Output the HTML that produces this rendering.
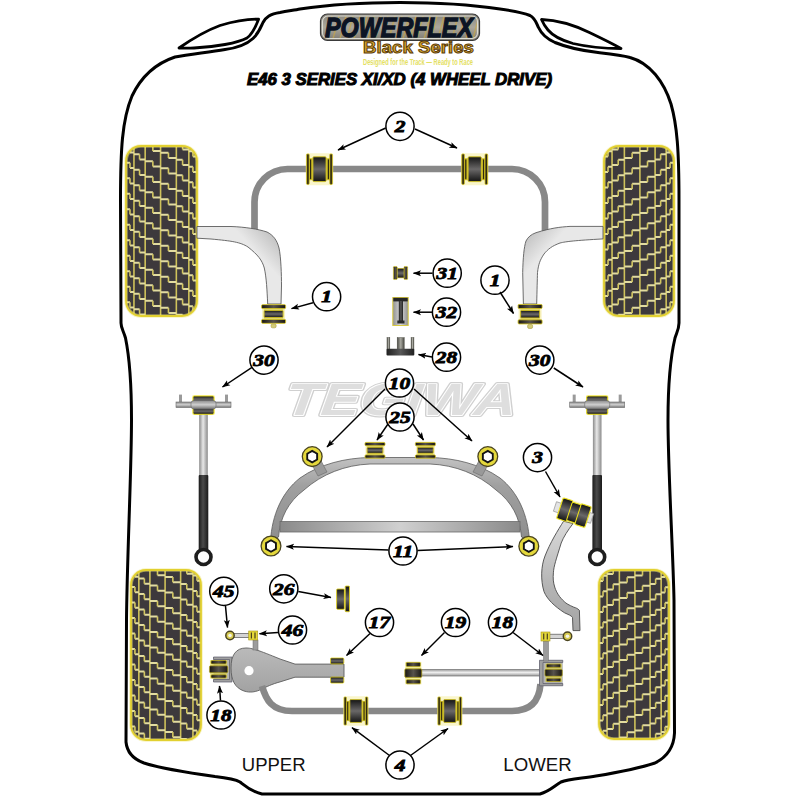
<!DOCTYPE html>
<html><head><meta charset="utf-8"><title>E46 3 Series XI/XD Powerflex Black Series</title>
<style>
html,body{margin:0;padding:0;background:#fff;width:800px;height:800px;overflow:hidden}
svg{display:block}
.lb{font-family:"Liberation Serif",serif;font-weight:bold;font-style:italic;text-anchor:middle;fill:#000;stroke:#000;stroke-width:0.85px}
</style></head>
<body>
<svg width="800" height="800" viewBox="0 0 800 800">
<defs>
<clipPath id="clogo"><rect x="322" y="15.5" width="156" height="23.5" rx="5.5"/></clipPath>
<marker id="ah" markerWidth="10" markerHeight="8" refX="7.5" refY="4" orient="auto" markerUnits="userSpaceOnUse"><path d="M0 1 L8 4 L0 7 L1.8 4 Z" fill="#000"/></marker>
<linearGradient id="gdk" x1="0" y1="0" x2="1" y2="0"><stop offset="0" stop-color="#1a1712"/><stop offset="0.5" stop-color="#57524c"/><stop offset="1" stop-color="#1a1712"/></linearGradient>
<linearGradient id="gdk2" x1="0" y1="0" x2="1" y2="0"><stop offset="0" stop-color="#202020"/><stop offset="0.5" stop-color="#585858"/><stop offset="1" stop-color="#202020"/></linearGradient>
<linearGradient id="glogo" x1="0" y1="0" x2="0" y2="1"><stop offset="0" stop-color="#8a867e"/><stop offset="0.5" stop-color="#aca89c"/><stop offset="1" stop-color="#7e7a72"/></linearGradient>
<linearGradient id="garm" gradientUnits="userSpaceOnUse" x1="256" y1="252" x2="280" y2="230"><stop offset="0" stop-color="#e8e8e8"/><stop offset="1" stop-color="#b6b6b6"/></linearGradient>
<linearGradient id="garm2" gradientUnits="userSpaceOnUse" x1="545" y1="252" x2="521" y2="230"><stop offset="0" stop-color="#e8e8e8"/><stop offset="1" stop-color="#b6b6b6"/></linearGradient>
<linearGradient id="gprong" x1="0" y1="0" x2="1" y2="0"><stop offset="0" stop-color="#4a4a44"/><stop offset="0.5" stop-color="#a8a8a0"/><stop offset="1" stop-color="#4a4a44"/></linearGradient>
<linearGradient id="guarm" x1="0" y1="0" x2="0" y2="1"><stop offset="0" stop-color="#bababa"/><stop offset="1" stop-color="#a2a2a2"/></linearGradient>
<linearGradient id="garc" gradientUnits="userSpaceOnUse" x1="0" y1="456" x2="0" y2="540"><stop offset="0" stop-color="#c4c4c4"/><stop offset="0.35" stop-color="#a0a0a0"/><stop offset="1" stop-color="#8e8e8e"/></linearGradient>
<linearGradient id="ggray" x1="0" y1="0" x2="1" y2="0"><stop offset="0" stop-color="#909090"/><stop offset="0.5" stop-color="#d8d8d8"/><stop offset="1" stop-color="#909090"/></linearGradient>
<linearGradient id="grod" x1="0" y1="0" x2="1" y2="0"><stop offset="0" stop-color="#8a8a8a"/><stop offset="0.45" stop-color="#e8e8e8"/><stop offset="1" stop-color="#8a8a8a"/></linearGradient>
<linearGradient id="grod2" x1="0" y1="0" x2="0" y2="1"><stop offset="0" stop-color="#9a9a9a"/><stop offset="0.45" stop-color="#eeeeee"/><stop offset="1" stop-color="#9a9a9a"/></linearGradient>
<linearGradient id="gblk" x1="0" y1="0" x2="1" y2="0"><stop offset="0" stop-color="#1a1a1a"/><stop offset="0.45" stop-color="#4a4a4a"/><stop offset="1" stop-color="#1a1a1a"/></linearGradient>
<linearGradient id="gplate" x1="0" y1="0" x2="0" y2="1"><stop offset="0" stop-color="#8c8c8c"/><stop offset="0.5" stop-color="#cfcfcf"/><stop offset="1" stop-color="#727272"/></linearGradient>
<linearGradient id="gbar" x1="0" y1="0" x2="1" y2="0"><stop offset="0" stop-color="#8a8a8a"/><stop offset="0.5" stop-color="#d0d0d0"/><stop offset="1" stop-color="#8a8a8a"/></linearGradient>
<linearGradient id="gknuck" x1="0" y1="0" x2="0" y2="1"><stop offset="0" stop-color="#dadada"/><stop offset="0.6" stop-color="#b4b4b4"/><stop offset="1" stop-color="#a4a4a4"/></linearGradient>
<linearGradient id="gdkv" x1="0" y1="0" x2="0" y2="1"><stop offset="0" stop-color="#141414"/><stop offset="0.5" stop-color="#6a6868"/><stop offset="1" stop-color="#141414"/></linearGradient>
</defs>
<rect width="800" height="800" fill="#fff"/>
<path d="M300 9 C340 3 370 2.5 400 2.5 C430 2.5 460 3 500 9 C514 11 524 13 530 15.5 C535 18 536 22 538.5 27.5 C541.5 34 547 39 555 42.5 C566 47 581 50.5 598 52.5 C612 54 622 55 630 57.5 C650 63 664 82 671 104 C677 125 679 150 679 200 L679 323 C679 329 676.5 333 675 338 C671 355 668 385 668 420 C668 470 673 550 674 600 L674.5 733 C674 745 669 756 655 763 C640 768 620 772 596 776 C580 778.5 568 779 561 782 C554 786 550 791 540 794 L262 794 C250 791 245 786 240 782 C235 779 228 778 215 776.5 C190 773 160 768 144 763 C133 759 127 752 126 742 L126.5 620 C127 560 131.5 470 131.5 420 C131.5 385 129 355 125.5 338 C123.5 331 121 328 121 323 L120.5 200 C120.5 150 122 120 132 96 C142 75 157 63 175 57 C190 54 208 52.5 225 49.5 C237 48 247 44 253 38.5 C258.5 33.5 260.5 28 263 22.5 C266 17 270 14 280 12.5 C288 11 295 10 300 9 Z" fill="#fff" stroke="#000" stroke-width="3" stroke-linejoin="round"/>
<path d="M179 48 C192 39 205 31 220 25.5 C235 21 248 19 258.6 19.2 C256 26 253 33.5 247 38 C238 43 215 47 194 48 C188 48.3 183 48.2 179 48 Z" fill="none" stroke="#000" stroke-width="2.8" stroke-linejoin="round"/>
<path d="M541.5 19.5 C555 20 572 24 589.4 32.5 C603 39 614 44.5 621 48.5 C605 48.5 590 47.5 573 43.5 C562 40.5 553 36 548 30 C545 26.5 543 23 541.5 19.5 Z" fill="none" stroke="#000" stroke-width="2.8" stroke-linejoin="round"/>
<rect x="320.5" y="14" width="159" height="26.5" rx="7" fill="url(#glogo)" stroke="#3a3a3a" stroke-width="1.2"/>
<g clip-path="url(#clogo)" stroke="#c8a844" stroke-width="1.4" opacity="0.65"><line x1="326" y1="39" x2="332" y2="16"/><line x1="333" y1="39" x2="339" y2="16"/><line x1="340" y1="39" x2="346" y2="16"/><line x1="347" y1="39" x2="353" y2="16"/><line x1="354" y1="39" x2="360" y2="16"/><line x1="361" y1="39" x2="367" y2="16"/><line x1="368" y1="39" x2="374" y2="16"/><line x1="375" y1="39" x2="381" y2="16"/><line x1="382" y1="39" x2="388" y2="16"/><line x1="389" y1="39" x2="395" y2="16"/><line x1="396" y1="39" x2="402" y2="16"/><line x1="403" y1="39" x2="409" y2="16"/><line x1="410" y1="39" x2="416" y2="16"/><line x1="417" y1="39" x2="423" y2="16"/><line x1="424" y1="39" x2="430" y2="16"/><line x1="431" y1="39" x2="437" y2="16"/><line x1="438" y1="39" x2="444" y2="16"/><line x1="445" y1="39" x2="451" y2="16"/><line x1="452" y1="39" x2="458" y2="16"/><line x1="459" y1="39" x2="465" y2="16"/><line x1="466" y1="39" x2="472" y2="16"/><line x1="473" y1="39" x2="479" y2="16"/></g>
<rect x="322.5" y="16" width="155" height="22.5" rx="5.5" fill="none" stroke="#dcdcd4" stroke-width="1.1"/>
<text x="325" y="36.8" font-family="Liberation Sans" font-weight="bold" font-style="italic" font-size="27" fill="#0c1424" stroke="#0c1424" stroke-width="1.3" textLength="148" lengthAdjust="spacingAndGlyphs">POWERFLEX</text>
<text x="363" y="52.5" font-family="Liberation Sans" font-weight="bold" font-size="16" fill="#d8a830" stroke="#5a3a08" stroke-width="0.9" textLength="111" lengthAdjust="spacingAndGlyphs">Black Series</text>
<text x="363" y="64.5" font-family="Liberation Sans" font-weight="bold" font-size="8.3" fill="#e4e060" textLength="110" lengthAdjust="spacingAndGlyphs">Designed for the Track — Ready to Race</text>
<text x="247" y="84.5" font-family="Liberation Sans" font-weight="bold" font-style="italic" font-size="16.3" fill="#000" stroke="#000" stroke-width="1.0" textLength="305" lengthAdjust="spacingAndGlyphs">E46 3 SERIES XI/XD (4 WHEEL DRIVE)</text>
<clipPath id="t1"><rect x="126" y="146" width="71" height="170" rx="15"/></clipPath>
<rect x="126" y="146" width="71" height="170" rx="15" fill="#3d393c"/>
<g clip-path="url(#t1)" fill="none" stroke-width="1.6">
<path d="M133.95 146V316M145.17 146V316M160.58 146V316M176.34 146V316M188.84 146V316" stroke="#cfc25a"/>
<path d="M126 116.3H129.98M129.98 121.5H133.95M126 131.8H129.98M129.98 137H133.95M126 147.3H129.98M129.98 152.5H133.95M126 162.8H129.98M129.98 168H133.95M126 178.3H129.98M129.98 183.5H133.95M126 193.8H129.98M129.98 199H133.95M126 209.3H129.98M129.98 214.5H133.95M126 224.8H129.98M129.98 230H133.95M126 240.3H129.98M129.98 245.5H133.95M126 255.8H129.98M129.98 261H133.95M126 271.3H129.98M129.98 276.5H133.95M126 286.8H129.98M129.98 292H133.95M126 302.3H129.98M129.98 307.5H133.95M126 317.8H129.98M129.98 323H133.95M133.95 123.3H139.56M139.56 128.5H145.17M133.95 138.8H139.56M139.56 144H145.17M133.95 154.3H139.56M139.56 159.5H145.17M133.95 169.8H139.56M139.56 175H145.17M133.95 185.3H139.56M139.56 190.5H145.17M133.95 200.8H139.56M139.56 206H145.17M133.95 216.3H139.56M139.56 221.5H145.17M133.95 231.8H139.56M139.56 237H145.17M133.95 247.3H139.56M139.56 252.5H145.17M133.95 262.8H139.56M139.56 268H145.17M133.95 278.3H139.56M139.56 283.5H145.17M133.95 293.8H139.56M139.56 299H145.17M133.95 309.3H139.56M139.56 314.5H145.17M145.17 114.8H152.87M152.87 120H160.58M145.17 130.3H152.87M152.87 135.5H160.58M145.17 145.8H152.87M152.87 151H160.58M145.17 161.3H152.87M152.87 166.5H160.58M145.17 176.8H152.87M152.87 182H160.58M145.17 192.3H152.87M152.87 197.5H160.58M145.17 207.8H152.87M152.87 213H160.58M145.17 223.3H152.87M152.87 228.5H160.58M145.17 238.8H152.87M152.87 244H160.58M145.17 254.3H152.87M152.87 259.5H160.58M145.17 269.8H152.87M152.87 275H160.58M145.17 285.3H152.87M152.87 290.5H160.58M145.17 300.8H152.87M152.87 306H160.58M145.17 316.3H152.87M152.87 321.5H160.58M160.58 121.8H168.46M168.46 127H176.34M160.58 137.3H168.46M168.46 142.5H176.34M160.58 152.8H168.46M168.46 158H176.34M160.58 168.3H168.46M168.46 173.5H176.34M160.58 183.8H168.46M168.46 189H176.34M160.58 199.3H168.46M168.46 204.5H176.34M160.58 214.8H168.46M168.46 220H176.34M160.58 230.3H168.46M168.46 235.5H176.34M160.58 245.8H168.46M168.46 251H176.34M160.58 261.3H168.46M168.46 266.5H176.34M160.58 276.8H168.46M168.46 282H176.34M160.58 292.3H168.46M168.46 297.5H176.34M160.58 307.8H168.46M168.46 313H176.34M176.34 128.8H182.59M182.59 134H188.84M176.34 144.3H182.59M182.59 149.5H188.84M176.34 159.8H182.59M182.59 165H188.84M176.34 175.3H182.59M182.59 180.5H188.84M176.34 190.8H182.59M182.59 196H188.84M176.34 206.3H182.59M182.59 211.5H188.84M176.34 221.8H182.59M182.59 227H188.84M176.34 237.3H182.59M182.59 242.5H188.84M176.34 252.8H182.59M182.59 258H188.84M176.34 268.3H182.59M182.59 273.5H188.84M176.34 283.8H182.59M182.59 289H188.84M176.34 299.3H182.59M182.59 304.5H188.84M176.34 314.8H182.59M182.59 320H188.84M188.84 120.3H192.92M192.92 125.5H197M188.84 135.8H192.92M192.92 141H197M188.84 151.3H192.92M192.92 156.5H197M188.84 166.8H192.92M192.92 172H197M188.84 182.3H192.92M192.92 187.5H197M188.84 197.8H192.92M192.92 203H197M188.84 213.3H192.92M192.92 218.5H197M188.84 228.8H192.92M192.92 234H197M188.84 244.3H192.92M192.92 249.5H197M188.84 259.8H192.92M192.92 265H197M188.84 275.3H192.92M192.92 280.5H197M188.84 290.8H192.92M192.92 296H197M188.84 306.3H192.92M192.92 311.5H197" stroke="#e2dca0" stroke-width="1.9"/>
<path d="M129.98 116.3V121.5M129.98 131.8V137M129.98 147.3V152.5M129.98 162.8V168M129.98 178.3V183.5M129.98 193.8V199M129.98 209.3V214.5M129.98 224.8V230M129.98 240.3V245.5M129.98 255.8V261M129.98 271.3V276.5M129.98 286.8V292M129.98 302.3V307.5M129.98 317.8V323M139.56 123.3V128.5M139.56 138.8V144M139.56 154.3V159.5M139.56 169.8V175M139.56 185.3V190.5M139.56 200.8V206M139.56 216.3V221.5M139.56 231.8V237M139.56 247.3V252.5M139.56 262.8V268M139.56 278.3V283.5M139.56 293.8V299M139.56 309.3V314.5M152.87 114.8V120M152.87 130.3V135.5M152.87 145.8V151M152.87 161.3V166.5M152.87 176.8V182M152.87 192.3V197.5M152.87 207.8V213M152.87 223.3V228.5M152.87 238.8V244M152.87 254.3V259.5M152.87 269.8V275M152.87 285.3V290.5M152.87 300.8V306M152.87 316.3V321.5M168.46 121.8V127M168.46 137.3V142.5M168.46 152.8V158M168.46 168.3V173.5M168.46 183.8V189M168.46 199.3V204.5M168.46 214.8V220M168.46 230.3V235.5M168.46 245.8V251M168.46 261.3V266.5M168.46 276.8V282M168.46 292.3V297.5M168.46 307.8V313M182.59 128.8V134M182.59 144.3V149.5M182.59 159.8V165M182.59 175.3V180.5M182.59 190.8V196M182.59 206.3V211.5M182.59 221.8V227M182.59 237.3V242.5M182.59 252.8V258M182.59 268.3V273.5M182.59 283.8V289M182.59 299.3V304.5M182.59 314.8V320M192.92 120.3V125.5M192.92 135.8V141M192.92 151.3V156.5M192.92 166.8V172M192.92 182.3V187.5M192.92 197.8V203M192.92 213.3V218.5M192.92 228.8V234M192.92 244.3V249.5M192.92 259.8V265M192.92 275.3V280.5M192.92 290.8V296M192.92 306.3V311.5" stroke="#d2c660"/>
</g>
<rect x="126" y="146" width="71" height="170" rx="15" fill="none" stroke="#f0e880" stroke-width="3.6" opacity="0.5"/>
<rect x="126" y="146" width="71" height="170" rx="15" fill="none" stroke="#e2d030" stroke-width="1.8"/>
<clipPath id="t2"><rect x="604" y="146" width="70" height="170" rx="15"/></clipPath>
<rect x="604" y="146" width="70" height="170" rx="15" fill="#3d393c"/>
<g clip-path="url(#t2)" fill="none" stroke-width="1.6">
<path d="M612.05 146V316M624.37 146V316M639.91 146V316M655.1 146V316M666.16 146V316" stroke="#cfc25a"/>
<path d="M604 125.5H608.02M608.02 120.3H612.05M604 141H608.02M608.02 135.8H612.05M604 156.5H608.02M608.02 151.3H612.05M604 172H608.02M608.02 166.8H612.05M604 187.5H608.02M608.02 182.3H612.05M604 203H608.02M608.02 197.8H612.05M604 218.5H608.02M608.02 213.3H612.05M604 234H608.02M608.02 228.8H612.05M604 249.5H608.02M608.02 244.3H612.05M604 265H608.02M608.02 259.8H612.05M604 280.5H608.02M608.02 275.3H612.05M604 296H608.02M608.02 290.8H612.05M604 311.5H608.02M608.02 306.3H612.05M612.05 134H618.21M618.21 128.8H624.37M612.05 149.5H618.21M618.21 144.3H624.37M612.05 165H618.21M618.21 159.8H624.37M612.05 180.5H618.21M618.21 175.3H624.37M612.05 196H618.21M618.21 190.8H624.37M612.05 211.5H618.21M618.21 206.3H624.37M612.05 227H618.21M618.21 221.8H624.37M612.05 242.5H618.21M618.21 237.3H624.37M612.05 258H618.21M618.21 252.8H624.37M612.05 273.5H618.21M618.21 268.3H624.37M612.05 289H618.21M618.21 283.8H624.37M612.05 304.5H618.21M618.21 299.3H624.37M612.05 320H618.21M618.21 314.8H624.37M624.37 127H632.14M632.14 121.8H639.91M624.37 142.5H632.14M632.14 137.3H639.91M624.37 158H632.14M632.14 152.8H639.91M624.37 173.5H632.14M632.14 168.3H639.91M624.37 189H632.14M632.14 183.8H639.91M624.37 204.5H632.14M632.14 199.3H639.91M624.37 220H632.14M632.14 214.8H639.91M624.37 235.5H632.14M632.14 230.3H639.91M624.37 251H632.14M632.14 245.8H639.91M624.37 266.5H632.14M632.14 261.3H639.91M624.37 282H632.14M632.14 276.8H639.91M624.37 297.5H632.14M632.14 292.3H639.91M624.37 313H632.14M632.14 307.8H639.91M639.91 120H647.5M647.5 114.8H655.1M639.91 135.5H647.5M647.5 130.3H655.1M639.91 151H647.5M647.5 145.8H655.1M639.91 166.5H647.5M647.5 161.3H655.1M639.91 182H647.5M647.5 176.8H655.1M639.91 197.5H647.5M647.5 192.3H655.1M639.91 213H647.5M647.5 207.8H655.1M639.91 228.5H647.5M647.5 223.3H655.1M639.91 244H647.5M647.5 238.8H655.1M639.91 259.5H647.5M647.5 254.3H655.1M639.91 275H647.5M647.5 269.8H655.1M639.91 290.5H647.5M647.5 285.3H655.1M639.91 306H647.5M647.5 300.8H655.1M639.91 321.5H647.5M647.5 316.3H655.1M655.1 128.5H660.63M660.63 123.3H666.16M655.1 144H660.63M660.63 138.8H666.16M655.1 159.5H660.63M660.63 154.3H666.16M655.1 175H660.63M660.63 169.8H666.16M655.1 190.5H660.63M660.63 185.3H666.16M655.1 206H660.63M660.63 200.8H666.16M655.1 221.5H660.63M660.63 216.3H666.16M655.1 237H660.63M660.63 231.8H666.16M655.1 252.5H660.63M660.63 247.3H666.16M655.1 268H660.63M660.63 262.8H666.16M655.1 283.5H660.63M660.63 278.3H666.16M655.1 299H660.63M660.63 293.8H666.16M655.1 314.5H660.63M660.63 309.3H666.16M666.16 121.5H670.08M670.08 116.3H674M666.16 137H670.08M670.08 131.8H674M666.16 152.5H670.08M670.08 147.3H674M666.16 168H670.08M670.08 162.8H674M666.16 183.5H670.08M670.08 178.3H674M666.16 199H670.08M670.08 193.8H674M666.16 214.5H670.08M670.08 209.3H674M666.16 230H670.08M670.08 224.8H674M666.16 245.5H670.08M670.08 240.3H674M666.16 261H670.08M670.08 255.8H674M666.16 276.5H670.08M670.08 271.3H674M666.16 292H670.08M670.08 286.8H674M666.16 307.5H670.08M670.08 302.3H674M666.16 323H670.08M670.08 317.8H674" stroke="#e2dca0" stroke-width="1.9"/>
<path d="M608.02 120.3V125.5M608.02 135.8V141M608.02 151.3V156.5M608.02 166.8V172M608.02 182.3V187.5M608.02 197.8V203M608.02 213.3V218.5M608.02 228.8V234M608.02 244.3V249.5M608.02 259.8V265M608.02 275.3V280.5M608.02 290.8V296M608.02 306.3V311.5M618.21 128.8V134M618.21 144.3V149.5M618.21 159.8V165M618.21 175.3V180.5M618.21 190.8V196M618.21 206.3V211.5M618.21 221.8V227M618.21 237.3V242.5M618.21 252.8V258M618.21 268.3V273.5M618.21 283.8V289M618.21 299.3V304.5M618.21 314.8V320M632.14 121.8V127M632.14 137.3V142.5M632.14 152.8V158M632.14 168.3V173.5M632.14 183.8V189M632.14 199.3V204.5M632.14 214.8V220M632.14 230.3V235.5M632.14 245.8V251M632.14 261.3V266.5M632.14 276.8V282M632.14 292.3V297.5M632.14 307.8V313M647.5 114.8V120M647.5 130.3V135.5M647.5 145.8V151M647.5 161.3V166.5M647.5 176.8V182M647.5 192.3V197.5M647.5 207.8V213M647.5 223.3V228.5M647.5 238.8V244M647.5 254.3V259.5M647.5 269.8V275M647.5 285.3V290.5M647.5 300.8V306M647.5 316.3V321.5M660.63 123.3V128.5M660.63 138.8V144M660.63 154.3V159.5M660.63 169.8V175M660.63 185.3V190.5M660.63 200.8V206M660.63 216.3V221.5M660.63 231.8V237M660.63 247.3V252.5M660.63 262.8V268M660.63 278.3V283.5M660.63 293.8V299M660.63 309.3V314.5M670.08 116.3V121.5M670.08 131.8V137M670.08 147.3V152.5M670.08 162.8V168M670.08 178.3V183.5M670.08 193.8V199M670.08 209.3V214.5M670.08 224.8V230M670.08 240.3V245.5M670.08 255.8V261M670.08 271.3V276.5M670.08 286.8V292M670.08 302.3V307.5M670.08 317.8V323" stroke="#d2c660"/>
</g>
<rect x="604" y="146" width="70" height="170" rx="15" fill="none" stroke="#f0e880" stroke-width="3.6" opacity="0.5"/>
<rect x="604" y="146" width="70" height="170" rx="15" fill="none" stroke="#e2d030" stroke-width="1.8"/>
<clipPath id="t3"><rect x="131" y="570" width="70" height="170" rx="15"/></clipPath>
<rect x="131" y="570" width="70" height="170" rx="15" fill="#3d393c"/>
<g clip-path="url(#t3)" fill="none" stroke-width="1.6">
<path d="M138.84 570V740M149.9 570V740M165.09 570V740M180.63 570V740M192.95 570V740" stroke="#cfc25a"/>
<path d="M131 540.5H134.92M134.92 545.7H138.84M131 556H134.92M134.92 561.2H138.84M131 571.5H134.92M134.92 576.7H138.84M131 587H134.92M134.92 592.2H138.84M131 602.5H134.92M134.92 607.7H138.84M131 618H134.92M134.92 623.2H138.84M131 633.5H134.92M134.92 638.7H138.84M131 649H134.92M134.92 654.2H138.84M131 664.5H134.92M134.92 669.7H138.84M131 680H134.92M134.92 685.2H138.84M131 695.5H134.92M134.92 700.7H138.84M131 711H134.92M134.92 716.2H138.84M131 726.5H134.92M134.92 731.7H138.84M138.84 547.5H144.37M144.37 552.7H149.9M138.84 563H144.37M144.37 568.2H149.9M138.84 578.5H144.37M144.37 583.7H149.9M138.84 594H144.37M144.37 599.2H149.9M138.84 609.5H144.37M144.37 614.7H149.9M138.84 625H144.37M144.37 630.2H149.9M138.84 640.5H144.37M144.37 645.7H149.9M138.84 656H144.37M144.37 661.2H149.9M138.84 671.5H144.37M144.37 676.7H149.9M138.84 687H144.37M144.37 692.2H149.9M138.84 702.5H144.37M144.37 707.7H149.9M138.84 718H144.37M144.37 723.2H149.9M138.84 733.5H144.37M144.37 738.7H149.9M149.9 539H157.5M157.5 544.2H165.09M149.9 554.5H157.5M157.5 559.7H165.09M149.9 570H157.5M157.5 575.2H165.09M149.9 585.5H157.5M157.5 590.7H165.09M149.9 601H157.5M157.5 606.2H165.09M149.9 616.5H157.5M157.5 621.7H165.09M149.9 632H157.5M157.5 637.2H165.09M149.9 647.5H157.5M157.5 652.7H165.09M149.9 663H157.5M157.5 668.2H165.09M149.9 678.5H157.5M157.5 683.7H165.09M149.9 694H157.5M157.5 699.2H165.09M149.9 709.5H157.5M157.5 714.7H165.09M149.9 725H157.5M157.5 730.2H165.09M149.9 740.5H157.5M157.5 745.7H165.09M165.09 546H172.86M172.86 551.2H180.63M165.09 561.5H172.86M172.86 566.7H180.63M165.09 577H172.86M172.86 582.2H180.63M165.09 592.5H172.86M172.86 597.7H180.63M165.09 608H172.86M172.86 613.2H180.63M165.09 623.5H172.86M172.86 628.7H180.63M165.09 639H172.86M172.86 644.2H180.63M165.09 654.5H172.86M172.86 659.7H180.63M165.09 670H172.86M172.86 675.2H180.63M165.09 685.5H172.86M172.86 690.7H180.63M165.09 701H172.86M172.86 706.2H180.63M165.09 716.5H172.86M172.86 721.7H180.63M165.09 732H172.86M172.86 737.2H180.63M180.63 553H186.79M186.79 558.2H192.95M180.63 568.5H186.79M186.79 573.7H192.95M180.63 584H186.79M186.79 589.2H192.95M180.63 599.5H186.79M186.79 604.7H192.95M180.63 615H186.79M186.79 620.2H192.95M180.63 630.5H186.79M186.79 635.7H192.95M180.63 646H186.79M186.79 651.2H192.95M180.63 661.5H186.79M186.79 666.7H192.95M180.63 677H186.79M186.79 682.2H192.95M180.63 692.5H186.79M186.79 697.7H192.95M180.63 708H186.79M186.79 713.2H192.95M180.63 723.5H186.79M186.79 728.7H192.95M180.63 739H186.79M186.79 744.2H192.95M192.95 544.5H196.97M196.97 549.7H201M192.95 560H196.97M196.97 565.2H201M192.95 575.5H196.97M196.97 580.7H201M192.95 591H196.97M196.97 596.2H201M192.95 606.5H196.97M196.97 611.7H201M192.95 622H196.97M196.97 627.2H201M192.95 637.5H196.97M196.97 642.7H201M192.95 653H196.97M196.97 658.2H201M192.95 668.5H196.97M196.97 673.7H201M192.95 684H196.97M196.97 689.2H201M192.95 699.5H196.97M196.97 704.7H201M192.95 715H196.97M196.97 720.2H201M192.95 730.5H196.97M196.97 735.7H201" stroke="#e2dca0" stroke-width="1.9"/>
<path d="M134.92 540.5V545.7M134.92 556V561.2M134.92 571.5V576.7M134.92 587V592.2M134.92 602.5V607.7M134.92 618V623.2M134.92 633.5V638.7M134.92 649V654.2M134.92 664.5V669.7M134.92 680V685.2M134.92 695.5V700.7M134.92 711V716.2M134.92 726.5V731.7M144.37 547.5V552.7M144.37 563V568.2M144.37 578.5V583.7M144.37 594V599.2M144.37 609.5V614.7M144.37 625V630.2M144.37 640.5V645.7M144.37 656V661.2M144.37 671.5V676.7M144.37 687V692.2M144.37 702.5V707.7M144.37 718V723.2M144.37 733.5V738.7M157.5 539V544.2M157.5 554.5V559.7M157.5 570V575.2M157.5 585.5V590.7M157.5 601V606.2M157.5 616.5V621.7M157.5 632V637.2M157.5 647.5V652.7M157.5 663V668.2M157.5 678.5V683.7M157.5 694V699.2M157.5 709.5V714.7M157.5 725V730.2M157.5 740.5V745.7M172.86 546V551.2M172.86 561.5V566.7M172.86 577V582.2M172.86 592.5V597.7M172.86 608V613.2M172.86 623.5V628.7M172.86 639V644.2M172.86 654.5V659.7M172.86 670V675.2M172.86 685.5V690.7M172.86 701V706.2M172.86 716.5V721.7M172.86 732V737.2M186.79 553V558.2M186.79 568.5V573.7M186.79 584V589.2M186.79 599.5V604.7M186.79 615V620.2M186.79 630.5V635.7M186.79 646V651.2M186.79 661.5V666.7M186.79 677V682.2M186.79 692.5V697.7M186.79 708V713.2M186.79 723.5V728.7M186.79 739V744.2M196.97 544.5V549.7M196.97 560V565.2M196.97 575.5V580.7M196.97 591V596.2M196.97 606.5V611.7M196.97 622V627.2M196.97 637.5V642.7M196.97 653V658.2M196.97 668.5V673.7M196.97 684V689.2M196.97 699.5V704.7M196.97 715V720.2M196.97 730.5V735.7" stroke="#d2c660"/>
</g>
<rect x="131" y="570" width="70" height="170" rx="15" fill="none" stroke="#f0e880" stroke-width="3.6" opacity="0.5"/>
<rect x="131" y="570" width="70" height="170" rx="15" fill="none" stroke="#e2d030" stroke-width="1.8"/>
<clipPath id="t4"><rect x="599" y="570" width="70" height="169" rx="15"/></clipPath>
<rect x="599" y="570" width="70" height="169" rx="15" fill="#3d393c"/>
<g clip-path="url(#t4)" fill="none" stroke-width="1.6">
<path d="M607.05 570V739M619.37 570V739M634.91 570V739M650.1 570V739M661.16 570V739" stroke="#cfc25a"/>
<path d="M599 550H603.02M603.02 544.8H607.05M599 565.5H603.02M603.02 560.3H607.05M599 581H603.02M603.02 575.8H607.05M599 596.5H603.02M603.02 591.3H607.05M599 612H603.02M603.02 606.8H607.05M599 627.5H603.02M603.02 622.3H607.05M599 643H603.02M603.02 637.8H607.05M599 658.5H603.02M603.02 653.3H607.05M599 674H603.02M603.02 668.8H607.05M599 689.5H603.02M603.02 684.3H607.05M599 705H603.02M603.02 699.8H607.05M599 720.5H603.02M603.02 715.3H607.05M599 736H603.02M603.02 730.8H607.05M607.05 558.5H613.21M613.21 553.3H619.37M607.05 574H613.21M613.21 568.8H619.37M607.05 589.5H613.21M613.21 584.3H619.37M607.05 605H613.21M613.21 599.8H619.37M607.05 620.5H613.21M613.21 615.3H619.37M607.05 636H613.21M613.21 630.8H619.37M607.05 651.5H613.21M613.21 646.3H619.37M607.05 667H613.21M613.21 661.8H619.37M607.05 682.5H613.21M613.21 677.3H619.37M607.05 698H613.21M613.21 692.8H619.37M607.05 713.5H613.21M613.21 708.3H619.37M607.05 729H613.21M613.21 723.8H619.37M607.05 744.5H613.21M613.21 739.3H619.37M619.37 551.5H627.14M627.14 546.3H634.91M619.37 567H627.14M627.14 561.8H634.91M619.37 582.5H627.14M627.14 577.3H634.91M619.37 598H627.14M627.14 592.8H634.91M619.37 613.5H627.14M627.14 608.3H634.91M619.37 629H627.14M627.14 623.8H634.91M619.37 644.5H627.14M627.14 639.3H634.91M619.37 660H627.14M627.14 654.8H634.91M619.37 675.5H627.14M627.14 670.3H634.91M619.37 691H627.14M627.14 685.8H634.91M619.37 706.5H627.14M627.14 701.3H634.91M619.37 722H627.14M627.14 716.8H634.91M619.37 737.5H627.14M627.14 732.3H634.91M634.91 544.5H642.5M642.5 539.3H650.1M634.91 560H642.5M642.5 554.8H650.1M634.91 575.5H642.5M642.5 570.3H650.1M634.91 591H642.5M642.5 585.8H650.1M634.91 606.5H642.5M642.5 601.3H650.1M634.91 622H642.5M642.5 616.8H650.1M634.91 637.5H642.5M642.5 632.3H650.1M634.91 653H642.5M642.5 647.8H650.1M634.91 668.5H642.5M642.5 663.3H650.1M634.91 684H642.5M642.5 678.8H650.1M634.91 699.5H642.5M642.5 694.3H650.1M634.91 715H642.5M642.5 709.8H650.1M634.91 730.5H642.5M642.5 725.3H650.1M634.91 746H642.5M642.5 740.8H650.1M650.1 553H655.63M655.63 547.8H661.16M650.1 568.5H655.63M655.63 563.3H661.16M650.1 584H655.63M655.63 578.8H661.16M650.1 599.5H655.63M655.63 594.3H661.16M650.1 615H655.63M655.63 609.8H661.16M650.1 630.5H655.63M655.63 625.3H661.16M650.1 646H655.63M655.63 640.8H661.16M650.1 661.5H655.63M655.63 656.3H661.16M650.1 677H655.63M655.63 671.8H661.16M650.1 692.5H655.63M655.63 687.3H661.16M650.1 708H655.63M655.63 702.8H661.16M650.1 723.5H655.63M655.63 718.3H661.16M650.1 739H655.63M655.63 733.8H661.16M661.16 546H665.08M665.08 540.8H669M661.16 561.5H665.08M665.08 556.3H669M661.16 577H665.08M665.08 571.8H669M661.16 592.5H665.08M665.08 587.3H669M661.16 608H665.08M665.08 602.8H669M661.16 623.5H665.08M665.08 618.3H669M661.16 639H665.08M665.08 633.8H669M661.16 654.5H665.08M665.08 649.3H669M661.16 670H665.08M665.08 664.8H669M661.16 685.5H665.08M665.08 680.3H669M661.16 701H665.08M665.08 695.8H669M661.16 716.5H665.08M665.08 711.3H669M661.16 732H665.08M665.08 726.8H669" stroke="#e2dca0" stroke-width="1.9"/>
<path d="M603.02 544.8V550M603.02 560.3V565.5M603.02 575.8V581M603.02 591.3V596.5M603.02 606.8V612M603.02 622.3V627.5M603.02 637.8V643M603.02 653.3V658.5M603.02 668.8V674M603.02 684.3V689.5M603.02 699.8V705M603.02 715.3V720.5M603.02 730.8V736M613.21 553.3V558.5M613.21 568.8V574M613.21 584.3V589.5M613.21 599.8V605M613.21 615.3V620.5M613.21 630.8V636M613.21 646.3V651.5M613.21 661.8V667M613.21 677.3V682.5M613.21 692.8V698M613.21 708.3V713.5M613.21 723.8V729M613.21 739.3V744.5M627.14 546.3V551.5M627.14 561.8V567M627.14 577.3V582.5M627.14 592.8V598M627.14 608.3V613.5M627.14 623.8V629M627.14 639.3V644.5M627.14 654.8V660M627.14 670.3V675.5M627.14 685.8V691M627.14 701.3V706.5M627.14 716.8V722M627.14 732.3V737.5M642.5 539.3V544.5M642.5 554.8V560M642.5 570.3V575.5M642.5 585.8V591M642.5 601.3V606.5M642.5 616.8V622M642.5 632.3V637.5M642.5 647.8V653M642.5 663.3V668.5M642.5 678.8V684M642.5 694.3V699.5M642.5 709.8V715M642.5 725.3V730.5M642.5 740.8V746M655.63 547.8V553M655.63 563.3V568.5M655.63 578.8V584M655.63 594.3V599.5M655.63 609.8V615M655.63 625.3V630.5M655.63 640.8V646M655.63 656.3V661.5M655.63 671.8V677M655.63 687.3V692.5M655.63 702.8V708M655.63 718.3V723.5M655.63 733.8V739M665.08 540.8V546M665.08 556.3V561.5M665.08 571.8V577M665.08 587.3V592.5M665.08 602.8V608M665.08 618.3V623.5M665.08 633.8V639M665.08 649.3V654.5M665.08 664.8V670M665.08 680.3V685.5M665.08 695.8V701M665.08 711.3V716.5M665.08 726.8V732" stroke="#d2c660"/>
</g>
<rect x="599" y="570" width="70" height="169" rx="15" fill="none" stroke="#f0e880" stroke-width="3.6" opacity="0.5"/>
<rect x="599" y="570" width="70" height="169" rx="15" fill="none" stroke="#e2d030" stroke-width="1.8"/>
<path d="M254.5 231 L254.5 202 A33 33 0 0 1 287.5 169 L512 169 A33 33 0 0 1 545 202 L545 231" fill="none" stroke="#888" stroke-width="6.7"/>
<path d="M197 226.5 L231 226.5 C245 227 258 229 267 232 C273 235 277 240 279 248 C281 257 281.5 275 281.5 286 L281 304 L267.7 304 C267 290 266.5 278 264.3 268 C262 260 258 255 248 247 C240 242 232 241 211 239 L197 238.2 Z" fill="url(#garm)" stroke="#5c5c5c" stroke-width="0.9"/>
<path d="M603 226.4 L570 226.4 C560 227 551 228 536 232.7 C531 234.5 528 237 526 241 C524 247 523 258 522.7 272.5 L523.4 304 L536.7 304 C537 290 537.3 280 537.5 272.5 C538.5 264 540 260 544 254 C548 249 552 246 560 243 C566 241.5 575 240.5 603 238.9 Z" fill="url(#garm2)" stroke="#5c5c5c" stroke-width="0.9"/>
<g transform="translate(319.5 169.2) rotate(0) scale(1)"><rect x="-13.8" y="-16" width="27.6" height="32" rx="2" fill="#f6eea0" opacity="0.55"/><rect x="-10.5" y="-11" width="21" height="22" fill="#d8c838"/><rect x="-12.9" y="-15.2" width="2.6" height="30.4" rx="0.8" fill="#2e2812" stroke="#d4c420" stroke-width="0.8"/><rect x="-10" y="-10.2" width="2.2" height="20.4" rx="0.8" fill="#2e2812" stroke="#d4c420" stroke-width="0.8"/><rect x="7.8" y="-10.2" width="2.2" height="20.4" rx="0.8" fill="#2e2812" stroke="#d4c420" stroke-width="0.8"/><rect x="10.3" y="-15.2" width="2.6" height="30.4" rx="0.8" fill="#2e2812" stroke="#d4c420" stroke-width="0.8"/><rect x="-6.6" y="-12.4" width="13.2" height="24.8" rx="1" fill="url(#gdkv)" stroke="#d4c420" stroke-width="0.9"/></g>
<g transform="translate(474.7 169.2) rotate(0) scale(1)"><rect x="-13.8" y="-16" width="27.6" height="32" rx="2" fill="#f6eea0" opacity="0.55"/><rect x="-10.5" y="-11" width="21" height="22" fill="#d8c838"/><rect x="-12.9" y="-15.2" width="2.6" height="30.4" rx="0.8" fill="#2e2812" stroke="#d4c420" stroke-width="0.8"/><rect x="-10" y="-10.2" width="2.2" height="20.4" rx="0.8" fill="#2e2812" stroke="#d4c420" stroke-width="0.8"/><rect x="7.8" y="-10.2" width="2.2" height="20.4" rx="0.8" fill="#2e2812" stroke="#d4c420" stroke-width="0.8"/><rect x="10.3" y="-15.2" width="2.6" height="30.4" rx="0.8" fill="#2e2812" stroke="#d4c420" stroke-width="0.8"/><rect x="-6.6" y="-12.4" width="13.2" height="24.8" rx="1" fill="url(#gdkv)" stroke="#d4c420" stroke-width="0.9"/></g>
<rect x="262.1" y="306.61" width="23" height="14.77" fill="#f8f2c0"/><rect x="263.76" y="306.61" width="19.68" height="14.77" fill="#e2d878"/><rect x="261.6" y="304.65" width="24" height="3.93" rx="1" fill="url(#gdk)" stroke="#d4c420" stroke-width="0.85"/><rect x="261.6" y="319.42" width="24" height="3.93" rx="1" fill="url(#gdk)" stroke="#d4c420" stroke-width="0.85"/><rect x="264.12" y="310.45" width="18.96" height="7.11" rx="1" fill="url(#gdkv)" stroke="#d4c420" stroke-width="0.85"/><rect x="271.1" y="323.85" width="5" height="4" rx="1.5" fill="#d4cc78" stroke="#a89c40" stroke-width="0.6"/>
<rect x="518.6" y="306.5" width="23" height="15.41" fill="#f8f2c0"/><rect x="520.26" y="306.5" width="19.68" height="15.41" fill="#e2d878"/><rect x="518.1" y="304.45" width="24" height="4.09" rx="1" fill="url(#gdk)" stroke="#d4c420" stroke-width="0.85"/><rect x="518.1" y="319.85" width="24" height="4.09" rx="1" fill="url(#gdk)" stroke="#d4c420" stroke-width="0.85"/><rect x="520.62" y="310.5" width="18.96" height="7.41" rx="1" fill="url(#gdkv)" stroke="#d4c420" stroke-width="0.85"/><rect x="527.6" y="324.45" width="5" height="4" rx="1.5" fill="#d4cc78" stroke="#a89c40" stroke-width="0.6"/>
<circle cx="400" cy="126.3" r="14.1" fill="#fff" stroke="#000" stroke-width="1.5"/><text transform="translate(400 132) scale(1.26 1)" class="lb" font-size="17">2</text>
<line x1="385.7" y1="128" x2="338" y2="150" stroke="#000" stroke-width="1.5" marker-end="url(#ah)"/>
<line x1="415" y1="129" x2="457" y2="148" stroke="#000" stroke-width="1.5" marker-end="url(#ah)"/>
<circle cx="326.6" cy="296.7" r="14.1" fill="#fff" stroke="#000" stroke-width="1.5"/><text transform="translate(326.6 302.39) scale(1.26 1)" class="lb" font-size="17">1</text>
<line x1="313" y1="302.7" x2="291.5" y2="308.6" stroke="#000" stroke-width="1.5" marker-end="url(#ah)"/>
<circle cx="495" cy="280.2" r="14.1" fill="#fff" stroke="#000" stroke-width="1.5"/><text transform="translate(495 285.89) scale(1.26 1)" class="lb" font-size="17">1</text>
<line x1="500" y1="292" x2="513.5" y2="313.5" stroke="#000" stroke-width="1.5" marker-end="url(#ah)"/>
<g><rect x="393.4" y="266.5" width="3.8" height="13" rx="0.8" fill="url(#gdk)" stroke="#d8c830" stroke-width="0.7"/><rect x="404" y="266.5" width="3.6" height="13" rx="0.8" fill="url(#gdk)" stroke="#d8c830" stroke-width="0.7"/><rect x="397.2" y="268.3" width="6.8" height="9.6" fill="url(#gdkv)" stroke="#d8c830" stroke-width="0.6"/></g>
<circle cx="447.2" cy="273.2" r="14.1" fill="#fff" stroke="#000" stroke-width="1.5"/><text transform="translate(447.2 278.89) scale(1.26 1)" class="lb" font-size="17">31</text>
<line x1="432.5" y1="273.2" x2="413.5" y2="273.2" stroke="#000" stroke-width="1.5" marker-end="url(#ah)"/>
<g><rect x="392.8" y="297.5" width="15.4" height="28" fill="url(#ggray)" stroke="#d8c840" stroke-width="1"/><rect x="393.3" y="297.8" width="14.4" height="3.6" fill="#262626"/><rect x="398.8" y="301" width="4.2" height="20.5" fill="url(#gdk2)"/><rect x="397.3" y="320.5" width="7.2" height="3" fill="#2a2a2a"/></g>
<circle cx="446.5" cy="312.2" r="14.1" fill="#fff" stroke="#000" stroke-width="1.5"/><text transform="translate(446.5 317.89) scale(1.26 1)" class="lb" font-size="17">32</text>
<line x1="432" y1="312.2" x2="413.5" y2="312.2" stroke="#000" stroke-width="1.5" marker-end="url(#ah)"/>
<g><rect x="387" y="337.7" width="2.8" height="12" fill="url(#gprong)" stroke="#4a4a40" stroke-width="0.5"/><rect x="397.2" y="337.7" width="7" height="12" fill="url(#gprong)" stroke="#4a4a40" stroke-width="0.5"/><rect x="411.1" y="337.7" width="2.8" height="12" fill="url(#gprong)" stroke="#4a4a40" stroke-width="0.5"/><rect x="386.5" y="348.8" width="27.8" height="6.8" rx="1" fill="url(#gdk2)"/></g>
<circle cx="446.5" cy="357.2" r="14.1" fill="#fff" stroke="#000" stroke-width="1.5"/><text transform="translate(446.5 362.89) scale(1.26 1)" class="lb" font-size="17">28</text>
<line x1="432" y1="357" x2="418.5" y2="354.5" stroke="#000" stroke-width="1.5" marker-end="url(#ah)"/>
<text x="284" y="415.5" transform="translate(0 415.5) skewX(-6) translate(0 -415.5)" font-family="Liberation Sans" font-weight="bold" font-style="italic" font-size="45" textLength="231" lengthAdjust="spacingAndGlyphs" fill="#d4d4d4" stroke="#d0d0d0" stroke-width="4" stroke-linejoin="round">TEGIWA</text>
<text x="284" y="415.5" transform="translate(0 415.5) skewX(-6) translate(0 -415.5)" font-family="Liberation Sans" font-weight="bold" font-style="italic" font-size="45" textLength="231" lengthAdjust="spacingAndGlyphs" fill="none" stroke="#fff" stroke-width="1.8" stroke-linejoin="round">TEGIWA</text>
<text x="284" y="415.5" transform="translate(0 415.5) skewX(-6) translate(0 -415.5)" font-family="Liberation Sans" font-weight="bold" font-style="italic" font-size="45" textLength="231" lengthAdjust="spacingAndGlyphs" fill="#dedede">TEGIWA</text>
<rect x="199.2" y="414" width="8.6" height="62" fill="url(#grod)"/><rect x="198.7" y="475" width="9.6" height="76" rx="1" fill="url(#gblk)"/><circle cx="203.5" cy="557" r="7.5" fill="#fff" stroke="#1e1e1e" stroke-width="3.6"/><rect x="179" y="394.6" width="3" height="8" fill="#9a9a9a"/><rect x="225" y="394.6" width="3" height="8" fill="#9a9a9a"/><rect x="192.5" y="395.5" width="22" height="19" fill="#ece01a" opacity="0.6"/><rect x="193" y="396" width="21" height="6.5" rx="1.5" fill="url(#gdkv)" stroke="#ece01a" stroke-width="0.9"/><rect x="193" y="408" width="21" height="6.3" rx="1.5" fill="url(#gdkv)" stroke="#ece01a" stroke-width="0.9"/><rect x="176" y="402" width="55" height="5.5" fill="url(#gplate)" stroke="#6a6a6a" stroke-width="0.6"/><rect x="191" y="400.5" width="25" height="8.5" rx="3" fill="url(#gplate)" stroke="#6a6a6a" stroke-width="0.6"/>
<rect x="592.9" y="414" width="8.6" height="62" fill="url(#grod)"/><rect x="592.4" y="475" width="9.6" height="76" rx="1" fill="url(#gblk)"/><circle cx="597.2" cy="557" r="7.5" fill="#fff" stroke="#1e1e1e" stroke-width="3.6"/><rect x="572.7" y="394.6" width="3" height="8" fill="#9a9a9a"/><rect x="618.7" y="394.6" width="3" height="8" fill="#9a9a9a"/><rect x="586.2" y="395.5" width="22" height="19" fill="#ece01a" opacity="0.6"/><rect x="586.7" y="396" width="21" height="6.5" rx="1.5" fill="url(#gdkv)" stroke="#ece01a" stroke-width="0.9"/><rect x="586.7" y="408" width="21" height="6.3" rx="1.5" fill="url(#gdkv)" stroke="#ece01a" stroke-width="0.9"/><rect x="569.7" y="402" width="55" height="5.5" fill="url(#gplate)" stroke="#6a6a6a" stroke-width="0.6"/><rect x="584.7" y="400.5" width="25" height="8.5" rx="3" fill="url(#gplate)" stroke="#6a6a6a" stroke-width="0.6"/>
<circle cx="264" cy="360.1" r="14.1" fill="#fff" stroke="#000" stroke-width="1.5"/><text transform="translate(264 365.8) scale(1.26 1)" class="lb" font-size="17">30</text>
<line x1="252" y1="367.3" x2="222.5" y2="387" stroke="#000" stroke-width="1.5" marker-end="url(#ah)"/>
<circle cx="539.8" cy="360.1" r="14.1" fill="#fff" stroke="#000" stroke-width="1.5"/><text transform="translate(539.8 365.8) scale(1.26 1)" class="lb" font-size="17">30</text>
<line x1="553.8" y1="368" x2="583" y2="387" stroke="#000" stroke-width="1.5" marker-end="url(#ah)"/>
<path d="M270.5 541 C272 515 282 492 300 478 C320 464 345 458 370 457.5 L430 457.5 C455 458 480 464 500 478 C518 492 528 515 529.5 541 L521.5 537 C520 518 512 502 496 490 C478 474 455 465 430 464 L370 464 C345 465 322 474 304 490 C288 502 280 518 278.5 537 Z" fill="url(#garc)" stroke="#5a5a5a" stroke-width="0.8"/>
<rect x="280" y="521.6" width="240" height="10.4" fill="url(#gbar)" stroke="#6a6a6a" stroke-width="0.8"/>
<path d="M309 459 L318 455 L327 472 L318 476 Z" fill="#999" stroke="#6a6a6a" stroke-width="0.6"/>
<path d="M491 459 L482 455 L473 472 L482 476 Z" fill="#999" stroke="#6a6a6a" stroke-width="0.6"/>
<circle cx="312.2" cy="456.6" r="9.9" fill="#e4d83c" stroke="#4a4420" stroke-width="1.3"/><polygon points="317.14,459.45 312.2,462.3 307.26,459.45 307.26,453.75 312.2,450.9 317.14,453.75" fill="#fff" stroke="#141414" stroke-width="1.9"/><circle cx="312.2" cy="456.6" r="3.7" fill="#fff"/>
<circle cx="487.8" cy="456.6" r="9.9" fill="#e4d83c" stroke="#4a4420" stroke-width="1.3"/><polygon points="492.74,459.45 487.8,462.3 482.86,459.45 482.86,453.75 487.8,450.9 492.74,453.75" fill="#fff" stroke="#141414" stroke-width="1.9"/><circle cx="487.8" cy="456.6" r="3.7" fill="#fff"/>
<circle cx="271" cy="546" r="9.9" fill="#e4d83c" stroke="#4a4420" stroke-width="1.3"/><polygon points="275.94,548.85 271,551.7 266.06,548.85 266.06,543.15 271,540.3 275.94,543.15" fill="#fff" stroke="#141414" stroke-width="1.9"/><circle cx="271" cy="546" r="3.7" fill="#fff"/>
<circle cx="528.8" cy="546.2" r="9.9" fill="#e4d83c" stroke="#4a4420" stroke-width="1.3"/><polygon points="533.74,549.05 528.8,551.9 523.86,549.05 523.86,543.35 528.8,540.5 533.74,543.35" fill="#fff" stroke="#141414" stroke-width="1.9"/><circle cx="528.8" cy="546.2" r="3.7" fill="#fff"/>
<rect x="365.5" y="444.06" width="19" height="12.48" fill="#f8f2c0"/><rect x="366.8" y="444.06" width="16.4" height="12.48" fill="#e2d878"/><rect x="365" y="442.4" width="20" height="3.32" rx="1" fill="url(#gdk)" stroke="#d4c420" stroke-width="0.85"/><rect x="365" y="454.88" width="20" height="3.32" rx="1" fill="url(#gdk)" stroke="#d4c420" stroke-width="0.85"/><rect x="367.1" y="447.3" width="15.8" height="6" rx="1" fill="url(#gdkv)" stroke="#d4c420" stroke-width="0.85"/>
<rect x="415.9" y="444.06" width="19" height="12.48" fill="#f8f2c0"/><rect x="417.2" y="444.06" width="16.4" height="12.48" fill="#e2d878"/><rect x="415.4" y="442.4" width="20" height="3.32" rx="1" fill="url(#gdk)" stroke="#d4c420" stroke-width="0.85"/><rect x="415.4" y="454.88" width="20" height="3.32" rx="1" fill="url(#gdk)" stroke="#d4c420" stroke-width="0.85"/><rect x="417.5" y="447.3" width="15.8" height="6" rx="1" fill="url(#gdkv)" stroke="#d4c420" stroke-width="0.85"/>
<circle cx="399.5" cy="383" r="14.1" fill="#fff" stroke="#000" stroke-width="1.5"/><text transform="translate(399.5 388.69) scale(1.26 1)" class="lb" font-size="17">10</text>
<line x1="385" y1="389" x2="327" y2="447" stroke="#000" stroke-width="1.5" marker-end="url(#ah)"/>
<line x1="414" y1="389" x2="472" y2="441" stroke="#000" stroke-width="1.5" marker-end="url(#ah)"/>
<circle cx="400" cy="417" r="14.1" fill="#fff" stroke="#000" stroke-width="1.5"/><text transform="translate(400 422.69) scale(1.26 1)" class="lb" font-size="17">25</text>
<line x1="388" y1="424" x2="377" y2="440" stroke="#000" stroke-width="1.5" marker-end="url(#ah)"/>
<line x1="413" y1="424" x2="423.5" y2="440" stroke="#000" stroke-width="1.5" marker-end="url(#ah)"/>
<circle cx="403" cy="551" r="14.1" fill="#fff" stroke="#000" stroke-width="1.5"/><text transform="translate(403 556.7) scale(1.26 1)" class="lb" font-size="17">11</text>
<line x1="388.5" y1="550" x2="286.5" y2="546.5" stroke="#000" stroke-width="1.5" marker-end="url(#ah)"/>
<line x1="417.5" y1="550.5" x2="513" y2="546.5" stroke="#000" stroke-width="1.5" marker-end="url(#ah)"/>
<path d="M563.6 521.2 C558 530 550 543 545 556 C541 566 540.5 580 544 591.6 C547 599 554 606 564.4 612.7 C568 614.5 571.5 615.5 572.5 617.5 L573 630.6 L580 630.6 L579.4 610.3 C577.5 608.5 576 607.8 573.8 607.2 C569 605 566 603.5 564.4 601.7 C559 597 556.5 592 555 588 C553 582 553 578 553.4 572.8 C553.8 566 556 560 561.2 543 C563.5 537 568 530 573 523.6 Z" fill="url(#gknuck)" stroke="#4a4a4a" stroke-width="0.9"/>
<g transform="translate(573.5 512.5) rotate(18)"><rect x="-19.5" y="-5" width="6" height="10" fill="#e4e4e4" stroke="#9a9a9a" stroke-width="0.7"/><rect x="13.5" y="-5" width="6" height="10" fill="#e4e4e4" stroke="#9a9a9a" stroke-width="0.7"/><rect x="-15" y="-11.5" width="31" height="23" fill="#ece01a" opacity="0.25"/><rect x="-14.3" y="-10.8" width="10.5" height="21.6" rx="1.5" fill="url(#gdkv)" stroke="#ece01a" stroke-width="1"/><rect x="-4.3" y="-9.6" width="9.6" height="19.2" rx="1.5" fill="url(#gdkv)" stroke="#ece01a" stroke-width="1"/><rect x="4.8" y="-10.8" width="10.5" height="21.6" rx="1.5" fill="url(#gdkv)" stroke="#ece01a" stroke-width="1"/></g>
<circle cx="537.5" cy="457.6" r="14.1" fill="#fff" stroke="#000" stroke-width="1.5"/><text transform="translate(537.5 463.3) scale(1.26 1)" class="lb" font-size="17">3</text>
<line x1="545.5" y1="471.5" x2="560" y2="497" stroke="#000" stroke-width="1.5" marker-end="url(#ah)"/>
<rect x="213.5" y="657" width="18.5" height="25" fill="#b4b4b4"/>
<path d="M213.5 657 H232 V682 H213.5 V679.5 H229.5 V659.5 H213.5 Z" fill="#a0a0a0" stroke="#5a5a6a" stroke-width="0.7"/>
<path d="M231 668 C231 655 236 648 246 648 C252 648 258 650 280 659 L295 664.1 L344 664.1 L344 677.2 L295 677.2 L280 681.9 C272 684 266 687 262 689 C256 692 250 693 244 691 C235 688 231 680 231 668 Z" fill="url(#guarm)" stroke="#5e5e5e" stroke-width="0.9"/>
<circle cx="249" cy="670.7" r="4.6" fill="#fff"/>
<rect x="209.95" y="660.05" width="17.3" height="18.5" fill="#e8dc40" opacity="0.55"/><rect x="211.01" y="660.55" width="15.19" height="3.33" rx="1" fill="url(#gdk)" stroke="#b8a818" stroke-width="0.7"/><rect x="211.01" y="674.72" width="15.19" height="3.33" rx="1" fill="url(#gdk)" stroke="#b8a818" stroke-width="0.7"/><rect x="209.45" y="665.8" width="18.3" height="7" rx="1.2" fill="url(#gdk)" stroke="#b8a818" stroke-width="0.7"/>
<rect x="330.5" y="658" width="13.3" height="5.9" rx="1" fill="url(#gdkv)" stroke="#e0d020" stroke-width="0.8"/>
<rect x="330.5" y="677.1" width="13.3" height="6" rx="1" fill="url(#gdkv)" stroke="#e0d020" stroke-width="0.8"/>
<rect x="253" y="640" width="5" height="10" fill="#9c9c9c" stroke="#6a6a6a" stroke-width="0.5"/><rect x="230" y="633.4" width="23.2" height="4.2" fill="#d4d4d4" stroke="#555" stroke-width="0.7"/><circle cx="230" cy="635.5" r="4.2" fill="#d8cc50" stroke="#4a4420" stroke-width="1.5"/><circle cx="230" cy="635.5" r="1.8" fill="#f4f4e8"/><rect x="248.7" y="631" width="9" height="9" fill="#e4d838" stroke="#a89818" stroke-width="0.6"/><path d="M251.4 632.5V638.5M255 632.5V638.5" stroke="#4a4020" stroke-width="1.2"/>
<rect x="336.6" y="589" width="7.8" height="20.3" rx="1" fill="url(#gdkv)" stroke="#e0d020" stroke-width="0.9"/>
<rect x="345.2" y="586.1" width="4.3" height="25.6" rx="0.8" fill="url(#gdkv)" stroke="#e0d020" stroke-width="0.9"/>
<path d="M262 686 C266 700 272 711 292 711 L512 711 C530 711 539 702 540.5 684" fill="none" stroke="#888" stroke-width="6.7"/>
<g transform="translate(355.9 711) rotate(0) scale(0.92)"><rect x="-13.8" y="-16" width="27.6" height="32" rx="2" fill="#f6eea0" opacity="0.55"/><rect x="-10.5" y="-11" width="21" height="22" fill="#d8c838"/><rect x="-12.9" y="-15.2" width="2.6" height="30.4" rx="0.8" fill="#2e2812" stroke="#d4c420" stroke-width="0.8"/><rect x="-10" y="-10.2" width="2.2" height="20.4" rx="0.8" fill="#2e2812" stroke="#d4c420" stroke-width="0.8"/><rect x="7.8" y="-10.2" width="2.2" height="20.4" rx="0.8" fill="#2e2812" stroke="#d4c420" stroke-width="0.8"/><rect x="10.3" y="-15.2" width="2.6" height="30.4" rx="0.8" fill="#2e2812" stroke="#d4c420" stroke-width="0.8"/><rect x="-6.6" y="-12.4" width="13.2" height="24.8" rx="1" fill="url(#gdkv)" stroke="#d4c420" stroke-width="0.9"/></g>
<g transform="translate(449.8 711) rotate(0) scale(0.92)"><rect x="-13.8" y="-16" width="27.6" height="32" rx="2" fill="#f6eea0" opacity="0.55"/><rect x="-10.5" y="-11" width="21" height="22" fill="#d8c838"/><rect x="-12.9" y="-15.2" width="2.6" height="30.4" rx="0.8" fill="#2e2812" stroke="#d4c420" stroke-width="0.8"/><rect x="-10" y="-10.2" width="2.2" height="20.4" rx="0.8" fill="#2e2812" stroke="#d4c420" stroke-width="0.8"/><rect x="7.8" y="-10.2" width="2.2" height="20.4" rx="0.8" fill="#2e2812" stroke="#d4c420" stroke-width="0.8"/><rect x="10.3" y="-15.2" width="2.6" height="30.4" rx="0.8" fill="#2e2812" stroke="#d4c420" stroke-width="0.8"/><rect x="-6.6" y="-12.4" width="13.2" height="24.8" rx="1" fill="url(#gdkv)" stroke="#d4c420" stroke-width="0.9"/></g>
<rect x="420" y="669.5" width="122" height="6.5" fill="url(#grod2)" stroke="#707070" stroke-width="0.7"/>
<rect x="405.3" y="661.9" width="16" height="22.4" fill="#e8dc40" opacity="0.55"/><rect x="406.25" y="662.4" width="14.11" height="4.07" rx="1" fill="url(#gdk)" stroke="#b8a818" stroke-width="0.7"/><rect x="406.25" y="679.73" width="14.11" height="4.07" rx="1" fill="url(#gdk)" stroke="#b8a818" stroke-width="0.7"/><rect x="404.8" y="668.82" width="17" height="8.56" rx="1.2" fill="url(#gdk)" stroke="#b8a818" stroke-width="0.7"/>
<rect x="539.5" y="660.25" width="23.25" height="25.5" fill="#b4b4b4"/>
<path d="M562.75 660.25 H539.5 V685.75 H562.75 V683.5 H543 V662.5 H562.75 Z" fill="#a0a0a0" stroke="#5a5a6a" stroke-width="0.7"/>
<rect x="545.45" y="663.55" width="16.3" height="18.5" fill="#e8dc40" opacity="0.55"/><rect x="546.42" y="664.05" width="14.36" height="3.33" rx="1" fill="url(#gdk)" stroke="#b8a818" stroke-width="0.7"/><rect x="546.42" y="678.22" width="14.36" height="3.33" rx="1" fill="url(#gdk)" stroke="#b8a818" stroke-width="0.7"/><rect x="544.95" y="669.3" width="17.3" height="7" rx="1.2" fill="url(#gdk)" stroke="#b8a818" stroke-width="0.7"/>
<rect x="543.5" y="641" width="5" height="20" fill="#9c9c9c" stroke="#6a6a6a" stroke-width="0.5"/><rect x="545.5" y="634.2" width="22" height="4.2" fill="#d4d4d4" stroke="#555" stroke-width="0.7"/><circle cx="567.5" cy="636.3" r="4.2" fill="#d8cc50" stroke="#4a4420" stroke-width="1.5"/><circle cx="567.5" cy="636.3" r="1.8" fill="#f4f4e8"/><rect x="541" y="632" width="9" height="9" fill="#e4d838" stroke="#a89818" stroke-width="0.6"/><path d="M543.7 633.5V639.5M547.3 633.5V639.5" stroke="#4a4020" stroke-width="1.2"/>
<circle cx="223.8" cy="591.3" r="14.1" fill="#fff" stroke="#000" stroke-width="1.5"/><text transform="translate(223.8 597) scale(1.26 1)" class="lb" font-size="17">45</text>
<line x1="225.5" y1="606" x2="227.5" y2="627.5" stroke="#000" stroke-width="1.5" marker-end="url(#ah)"/>
<circle cx="283.8" cy="588.8" r="14.1" fill="#fff" stroke="#000" stroke-width="1.5"/><text transform="translate(283.8 594.5) scale(1.26 1)" class="lb" font-size="17">26</text>
<line x1="298.3" y1="591.5" x2="331" y2="597.5" stroke="#000" stroke-width="1.5" marker-end="url(#ah)"/>
<circle cx="292.5" cy="630" r="14.1" fill="#fff" stroke="#000" stroke-width="1.5"/><text transform="translate(292.5 635.7) scale(1.26 1)" class="lb" font-size="17">46</text>
<line x1="278" y1="632.5" x2="259.5" y2="633.8" stroke="#000" stroke-width="1.5" marker-end="url(#ah)"/>
<circle cx="379.5" cy="622.5" r="14.1" fill="#fff" stroke="#000" stroke-width="1.5"/><text transform="translate(379.5 628.2) scale(1.26 1)" class="lb" font-size="17">17</text>
<line x1="370" y1="633.5" x2="346.5" y2="655.5" stroke="#000" stroke-width="1.5" marker-end="url(#ah)"/>
<circle cx="221" cy="715" r="14.1" fill="#fff" stroke="#000" stroke-width="1.5"/><text transform="translate(221 720.7) scale(1.26 1)" class="lb" font-size="17">18</text>
<line x1="220.5" y1="700.5" x2="219.5" y2="686" stroke="#000" stroke-width="1.5" marker-end="url(#ah)"/>
<circle cx="455.5" cy="622.5" r="14.1" fill="#fff" stroke="#000" stroke-width="1.5"/><text transform="translate(455.5 628.2) scale(1.26 1)" class="lb" font-size="17">19</text>
<line x1="444.5" y1="632.5" x2="421.5" y2="655.5" stroke="#000" stroke-width="1.5" marker-end="url(#ah)"/>
<circle cx="502.5" cy="622.5" r="14.1" fill="#fff" stroke="#000" stroke-width="1.5"/><text transform="translate(502.5 628.2) scale(1.26 1)" class="lb" font-size="17">18</text>
<line x1="513" y1="632.5" x2="543" y2="655.5" stroke="#000" stroke-width="1.5" marker-end="url(#ah)"/>
<circle cx="400" cy="765" r="14.1" fill="#fff" stroke="#000" stroke-width="1.5"/><text transform="translate(400 770.7) scale(1.26 1)" class="lb" font-size="17">4</text>
<line x1="389.5" y1="755.5" x2="352" y2="727.7" stroke="#000" stroke-width="1.5" marker-end="url(#ah)"/>
<line x1="410.5" y1="755.5" x2="448" y2="728.5" stroke="#000" stroke-width="1.5" marker-end="url(#ah)"/>
<text x="241.8" y="770.7" font-family="Liberation Sans" font-size="17.6" fill="#111" textLength="63.8" lengthAdjust="spacingAndGlyphs">UPPER</text>
<text x="503.3" y="770.7" font-family="Liberation Sans" font-size="17.6" fill="#111" textLength="68.3" lengthAdjust="spacingAndGlyphs">LOWER</text>
</svg>
</body></html>
